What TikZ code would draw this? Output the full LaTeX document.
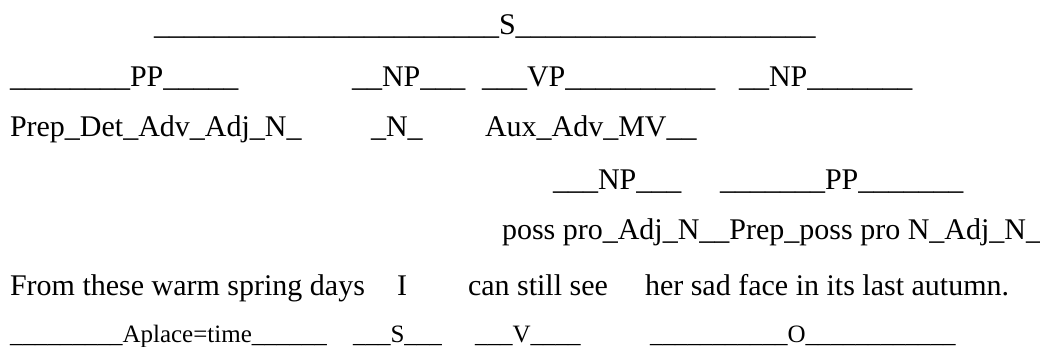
\documentclass[tikz,border=0pt]{standalone}
\usepackage{fontspec}
\setmainfont{Liberation Serif}
\newcount\uscount
\newcommand\usline[1]{\uscount=#1\relax\loop\ifnum\uscount>0 \_\advance\uscount-1 \repeat}
\begin{document}
\begin{tikzpicture}[x=1pt,y=-1pt,
  txt/.style={anchor=base west, inner sep=0pt, outer sep=0pt, font=\fontsize{30}{36}\selectfont},
  sm/.style={txt, font=\fontsize{25}{30}\selectfont}]
\useasboundingbox (0,0) rectangle (1040,347);
% row 1
\node[txt] (s) at (154,35) {\usline{23}S\usline{20}};
% row 2
\node[txt] (pp) at (10,87) {\usline{8}PP\usline{5}};
\node[txt] (np1) at (352,87) {\usline{2}NP\usline{3}};
\node[txt] (vp) at (482,87) {\usline{3}VP\usline{10}};
\node[txt] (np2) at (739,87) {\usline{2}NP\usline{7}};
% row 3
\node[txt] (w1) at (10,137) {Prep\_Det\_Adv\_Adj\_N\_};
\node[txt] (w2) at (371,137) {\_N\_};
\node[txt] (w3) at (485,137) {Aux\_Adv\_MV\_\_};
% row 4
\node[txt] (np3) at (553,190) {\usline{3}NP\usline{3}};
\node[txt] (pp2) at (720,190) {\usline{7}PP\usline{7}};
% row 5
\node[txt] (w4) at (502,240) {poss pro\_Adj\_N\_\_Prep\_poss pro N\_Adj\_N\_};
% row 6
\node[txt] (t1) at (10,295) {From these warm spring days};
\node[txt] (t2) at (397,295) {I};
\node[txt] (t3) at (468,295) {can still see};
\node[txt] (t4) at (645,295) {her sad face in its last autumn.};
% row 7
\node[sm] (f1) at (10,342) {\usline{9}Aplace=time\usline{6}};
\node[sm] (f2) at (353,342) {\usline{3}S\usline{3}};
\node[sm] (f3) at (475,342) {\usline{3}V\usline{4}};
\node[sm] (f4) at (650,342) {\usline{11}O\usline{12}};
\end{tikzpicture}
\end{document}
